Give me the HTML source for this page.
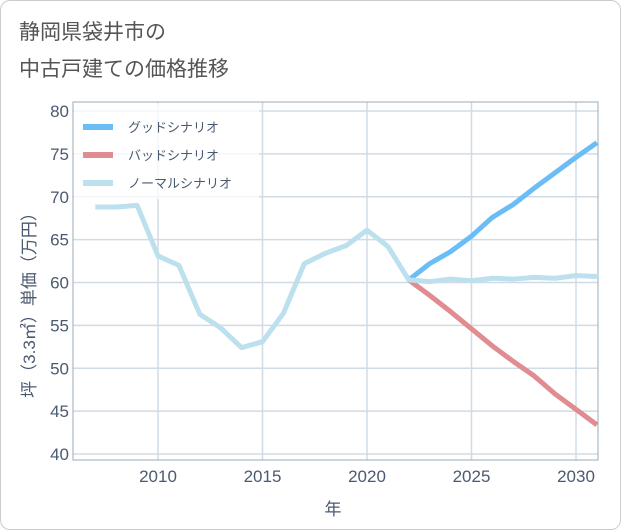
<!DOCTYPE html>
<html><head><meta charset="utf-8"><style>
body{margin:0;background:#fff;font-family:"Liberation Sans","Noto Sans CJK JP",sans-serif;}
#wrap{position:relative;width:619px;height:528px;border:1px solid #ccc;border-radius:10px;overflow:hidden;}
</style></head><body>
<div id="wrap">
<svg id="chart" width="621" height="530"></svg>
</div>
<script>
const years=[2007,2008,2009,2010,2011,2012,2013,2014,2015,2016,2017,2018,2019,2020,2021,2022,2023,2024,2025,2026,2027,2028,2029,2030,2031];
const normal=[68.8,68.8,69.0,63.1,62.0,56.3,54.7,52.4,53.1,56.4,62.2,63.4,64.3,66.1,64.2,60.3,60.1,60.4,60.2,60.5,60.4,60.6,60.5,60.8,60.7];
const fYears=[2022,2023,2024,2025,2026,2027,2028,2029,2030,2031];
const good=[60.3,62.2,63.6,65.4,67.6,69.1,71.0,72.8,74.6,76.3];
const bad=[60.3,58.5,56.6,54.6,52.6,50.8,49.1,47.0,45.2,43.4];
const yTicks=[40,45,50,55,60,65,70,75,80];
const xTicks=[2010,2015,2020,2025,2030];
const NS="http://www.w3.org/2000/svg";
const svg=document.getElementById('chart');
const L=72,R=597,T=101,B=459;
const X=v=>157+(v-2010)*(575-157)/20;
const Y=v=>453-(v-40)*(453-110)/40;
function el(t,a,p){const e=document.createElementNS(NS,t);for(const k in a)e.setAttribute(k,a[k]);(p||svg).appendChild(e);return e;}
const defs=el('defs',{});const cp=el('clipPath',{id:'cp'},defs);el('rect',{x:L,y:T,width:R-L,height:B-T},cp);
let t=el('text',{x:18,y:38,'font-size':21,fill:'#555'});t.textContent='静岡県袋井市の';

t=el('text',{x:18,y:75,'font-size':21,fill:'#555'});t.textContent='中古戸建ての価格推移';

yTicks.forEach(v=>{const l=el('line',{x1:L,x2:R,y1:Y(v),y2:Y(v),stroke:'#d0dbe6','stroke-width':1.5});

const tx=el('text',{x:L-4,y:Y(v)+6,'font-size':17,fill:'#4a5a70','text-anchor':'end'});tx.textContent=v;
});
xTicks.forEach(v=>{const l=el('line',{x1:X(v),x2:X(v),y1:T,y2:B,stroke:'#d0dbe6','stroke-width':1.5});

const tx=el('text',{x:X(v),y:481,'font-size':17,fill:'#4a5a70','text-anchor':'middle'});tx.textContent=v;
});
const fr=el('rect',{x:L,y:T,width:R-L,height:B-T,fill:'none',stroke:'#9aa8b8','stroke-width':1});

function line(xs,ys,c,name){const p=el('polyline',{points:xs.map((x,i)=>X(x)+','+Y(ys[i])).join(' '),fill:'none',stroke:c,'stroke-width':5,'stroke-linejoin':'round','clip-path':'url(#cp)'});
}
line(fYears,bad,'#e08c90','bad-scenario-line');
line(fYears,good,'#6bbdf5','good-scenario-line');
line(years,normal,'#bde0ee','normal-scenario-line');
const lg=el('rect',{x:L+1,y:T+1,width:185,height:96,fill:'#fff','fill-opacity':0.75});

[['グッドシナリオ','#6bbdf5'],['バッドシナリオ','#e08c90'],['ノーマルシナリオ','#bde0ee']].forEach((d,i)=>{
const yy=126+i*28;const g=el('g',{});
el('line',{x1:82,x2:112,y1:yy,y2:yy,stroke:d[1],'stroke-width':6},g);
const tx=el('text',{x:127,y:yy+5,'font-size':13,fill:'#4a5a70'},g);tx.textContent=d[0];});
t=el('text',{x:332,y:514,'font-size':17,fill:'#4a5a70','text-anchor':'middle'});t.textContent='年';

t=el('text',{x:0,y:0,'font-size':17,fill:'#4a5a70','text-anchor':'middle',transform:'translate(34,300) rotate(-90)'});t.textContent='坪（3.3㎡）単価（万円）';

</script>
</body></html>
